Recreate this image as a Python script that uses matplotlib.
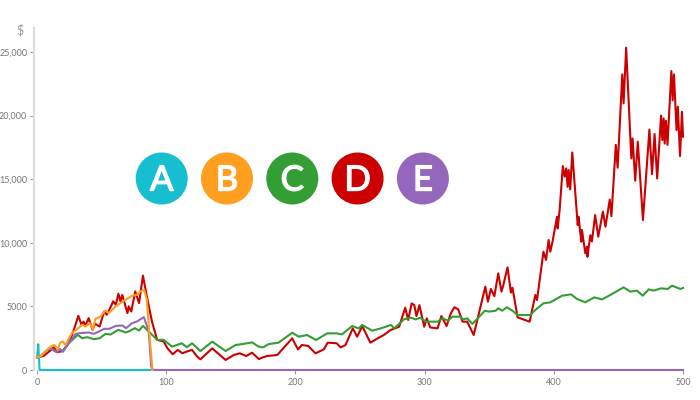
import matplotlib
matplotlib.use("Agg")
import matplotlib.pyplot as plt
import matplotlib.patheffects as pe
from matplotlib.patches import Circle

# values
a_x = [0, 1, 2, 88]
a_y = [1000, 2030, 0, 0]

b_x = [0, 3, 6.5, 10, 13.5, 16, 18, 20, 22, 27, 32, 35, 37.5, 41, 43.4, 45, 49, 53, 55.5, 61, 64.6, 68.5,
       73.6, 77.5, 80, 83, 85, 87, 89.4]
b_y = [1000, 1100, 1450, 1800, 1970, 1580, 2160, 2240, 1970, 2900, 3290, 3550, 3420, 3680, 3160, 4000, 4200,
       4680, 4470, 5000, 5260, 5530, 5840, 5920, 6180, 6300, 5530, 2800, 0]

c_x = [0, 2.6, 6.5, 10, 12.4, 15.5, 17.6, 20, 24.5, 31.5, 35, 39, 44, 48.5, 53, 57, 63, 68.5, 71, 75.7, 79, 82,
       86.5, 93, 98, 104.6, 108.5, 112, 116, 120, 126.5, 135.6, 146, 153.6, 159, 166.5, 171.7, 175, 179.4, 187,
       197.5, 202.6, 209, 216, 224.6, 232, 236, 244, 249, 251.7, 259.4, 266, 274, 276.5, 284, 289.4, 293, 296.6,
       301, 310, 314, 318, 321.6, 327.5, 330, 333, 337, 346.6, 350, 355, 357, 360, 363.7, 368, 372, 381.8, 385.7,
       392, 397.3, 406.4, 413.3, 418, 424.4, 431.4, 437.3, 443.8, 454, 459.3, 464.4, 468.8, 473.5, 477.3, 483,
       488.2, 491.5, 498, 500]
c_y = [1000, 1050, 1450, 1700, 1580, 1400, 1630, 1450, 2100, 2760, 2500, 2580, 2420, 2500, 2840, 2790, 3160,
       2950, 3030, 3290, 3100, 3470, 3030, 2370, 2370, 1840, 1970, 2100, 1790, 2100, 1490, 2230, 1490, 1965, 2040,
       2170, 1830, 1780, 2040, 2150, 2930, 2620, 2750, 2360, 2880, 2880, 2800, 3460, 3270, 3540, 3090, 3270, 3540,
       3270, 3980, 4110, 3980, 4110, 3800, 3800, 4060, 3880, 4190, 4190, 3980, 4060, 3620, 4660, 4590, 4660, 4850,
       4660, 4930, 4660, 4320, 4320, 4720, 5240, 5320, 5840, 5950, 5580, 5320, 5710, 5550, 5900, 6500, 6160, 6240,
       5840, 6340, 6240, 6420, 6370, 6630, 6370, 6450]

d_x = [0, 5, 10, 13, 16, 20, 25, 28, 32, 34.5, 36, 37.5, 40, 43, 45, 48.5, 52, 54, 56, 59, 61, 63, 64.6, 66, 70,
       71, 73, 76, 79, 82, 85, 89, 93, 98, 101, 105, 109, 112.5, 116, 120, 124, 126.5, 135.6, 146, 152.3, 157, 162,
       166.5, 171.7, 175, 178, 186, 197.5, 202, 205, 210, 215.5, 222, 225, 232, 235, 238.8, 244.4, 247.8, 251.7,
       258, 264.6, 268.4, 273.6, 280.3, 285, 287.3, 290, 292, 293.7, 296, 299.7, 301.7, 304.3, 310, 313, 317,
       320.3, 323, 326, 329.4, 333, 338, 347, 349, 351.3, 354, 357, 359.5, 361, 364.2, 366.8, 368, 372, 381.3,
       385.7, 387, 392, 394, 396, 397.3, 399, 402.5, 403, 404.5, 407, 408.4, 409.6, 410.7, 411.5, 412.7, 414.3,
       418.5, 419.2, 421.3, 421.8, 424.4, 425.7, 426, 428.3, 429.5, 432, 434.4, 438, 440, 443.3, 444.6, 448, 449.4,
       453, 454, 456, 460, 461, 463, 465, 469, 474, 476, 478, 480, 483, 484, 485, 485.8, 486.8, 488, 491, 492,
       493, 495, 496, 497.7, 499.2, 500]
d_y = [1000, 1100, 1500, 1800, 1400, 1500, 2200, 3000, 4260, 3550, 3800, 3500, 4080, 3160, 3630, 3420, 4600, 4340,
       4740, 5400, 5130, 6000, 5400, 5900, 4470, 5000, 4600, 6180, 5260, 7420, 5800, 3800, 2370, 2240, 1710, 1240,
       1580, 1320, 1450, 1580, 1050, 840, 1700, 790, 1180, 1310, 1100, 1360, 860, 1000, 1100, 1180, 2490, 1620, 1965,
       1890, 1310, 1620, 2150, 2100, 1780, 1965, 3270, 2620, 3460, 2150, 2540, 2750, 3140, 3400, 4900, 3930, 5240,
       5100, 4240, 5100, 3400, 4060, 3350, 3270, 4240, 3460, 4450, 4930, 4770, 3800, 3800, 2750, 6550, 5370, 6370,
       5800, 7600, 6160, 6700, 8070, 6080, 6470, 4140, 3800, 5900, 5500, 9300, 8650, 10220, 9300, 10090, 12050, 11130,
       12580, 16030, 15200, 15850, 14400, 15720, 14200, 17100, 11400, 12050, 10090, 11000, 9170, 9700, 8900, 10600,
       10100, 12180, 10480, 12450, 11270, 13400, 12100, 17700, 15900, 23240, 20960, 25340, 16640, 18200, 14880, 17950,
       11790, 18900, 15400, 18550, 15060, 20000, 18080, 19780, 17800, 19600, 17700, 23500, 21200, 23240, 18860, 20700,
       16820, 20300, 18340]

e_x = [0, 2.6, 6.5, 10, 12.4, 15.5, 17.6, 20, 24.5, 30, 33.6, 40, 44, 48, 52, 56, 61, 66, 69, 73.6, 77.5, 82.7,
       86.5, 88.4, 90, 500]
e_y = [1000, 1050, 1450, 1700, 1580, 1400, 1630, 1450, 2100, 2840, 2900, 2950, 2840, 3030, 3240, 3240, 3470, 3500,
       3290, 3680, 3820, 4160, 3030, 260, 0, 0]

xticks = [0, 100, 200, 300, 400, 500]
yticks = [0, 5000, 10000, 15000, 20000, 25000]
ylabels = ["0", "5000", "10,000", "15,000", "20,000", "25,000"]

badges = ["A", "B", "C", "D", "E"]
colors = ["#17becf", "#ff9e1f", "#339e33", "#cc0000", "#9467bd"]

plt.rcParams["font.family"] = ["Lato", "DejaVu Sans"]

fig = plt.figure(figsize=(7, 4), dpi=100)
ax = fig.add_axes([37 / 700, 30 / 400, 646 / 700, 342 / 400])

# same stacking as the reference: red under green, orange on top
ax.plot(d_x, d_y, color=colors[3], lw=1.5, clip_on=False)
ax.plot(c_x, c_y, color=colors[2], lw=1.5, clip_on=False)
ax.plot(e_x, e_y, color=colors[4], lw=1.5, clip_on=False)
ax.plot(a_x, a_y, color=colors[0], lw=1.5, clip_on=False)
ax.plot(b_x, b_y, color=colors[1], lw=1.5, clip_on=False)

ax.set_xlim(0, 500)
ax.set_ylim(0, 342 / 0.01272)
ax.set_xticks(xticks)
ax.set_yticks(yticks)
ax.set_yticklabels(ylabels)
ax.tick_params(axis="both", length=3, width=0.8, color="#999999", labelcolor="#777777", labelsize=6.5, pad=2)

for side in ["top", "right", "bottom"]:
    ax.spines[side].set_visible(False)
ax.spines["left"].set_position(("outward", 2))
ax.spines["left"].set_color("#dddddd")
ax.spines["left"].set_linewidth(1.6)
ax.tick_params(axis="x", pad=3)

fig.text(20 / 700, 1 - 30 / 400, "$", color="#999999", fontsize=9, ha="center", va="center")

# letter badges, placed in pixels of the figure
overlay = fig.add_axes([0, 0, 1, 1], facecolor="none")
overlay.set_xlim(0, 700)
overlay.set_ylim(400, 0)
overlay.axis("off")
for i, letter in enumerate(badges):
    cx = 161.7 + i * 65.3
    overlay.add_patch(Circle((cx, 178.5), 26, color=colors[i], lw=0))
    t = overlay.text(cx, 177.5, letter, color="white", fontsize=25, ha="center", va="center_baseline")
    # Lato regular is too thin and bold too heavy, thicken it a little
    t.set_path_effects([pe.withStroke(linewidth=1.0, foreground="white")])

fig.savefig("out.png", dpi=100)
